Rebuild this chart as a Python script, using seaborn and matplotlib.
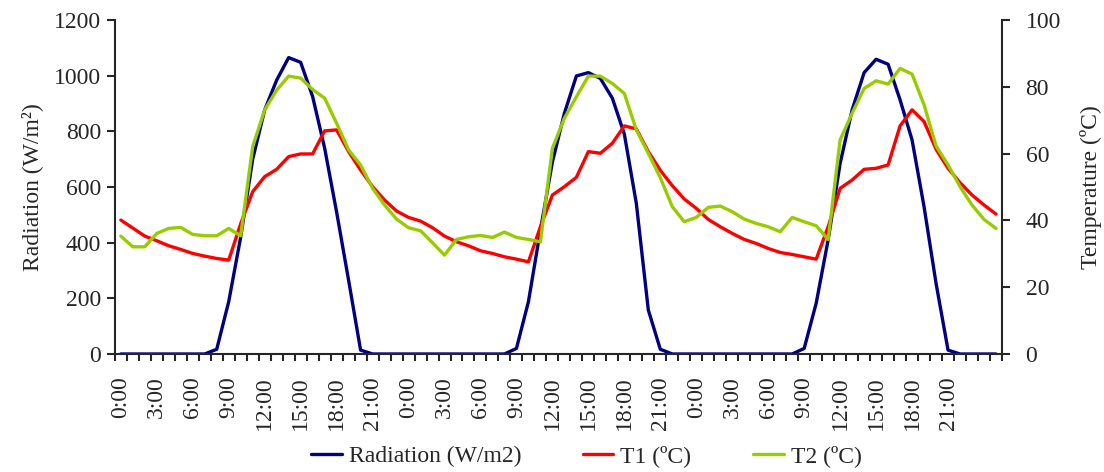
import numpy as np
import pandas as pd
import matplotlib
matplotlib.use('Agg')
import matplotlib.pyplot as plt
import seaborn as sns
from matplotlib.ticker import FixedLocator, MultipleLocator

######################################################### data (hourly, 3 days)
hour_labels = ['0:00', '3:00', '6:00', '9:00', '12:00', '15:00', '18:00', '21:00'] * 3

radiation = [0, 0, 0, 0, 0, 0, 0, 0, 17, 188,
             420, 700, 877, 984, 1065, 1048, 925, 740, 510, 265,
             14, 0, 0, 0, 0, 0, 0, 0, 0, 0,
             0, 0, 0, 20, 188, 445, 690, 865, 999, 1011,
             990, 919, 790, 541, 158, 17, 0, 0, 0, 0,
             0, 0, 0, 0, 0, 0, 0, 20, 182, 410,
             685, 877, 1011, 1059, 1041, 913, 769, 529, 254, 14,
             0, 0, 0, 0]

t1 = [40.1, 37.7, 35.3, 33.9, 32.4, 31.3, 30.1, 29.3, 28.6, 28.1,
      39.0, 48.6, 53.1, 55.3, 59.1, 59.9, 59.9, 66.8, 67.1, 60.6,
      55.1, 50.1, 46.1, 42.8, 40.9, 39.8, 37.8, 35.3, 33.6, 32.4,
      30.9, 30.1, 29.1, 28.4, 27.6, 38.1, 47.6, 50.1, 52.9, 60.6,
      60.1, 63.1, 68.3, 67.4, 60.6, 55.0, 50.4, 46.4, 43.6, 40.3,
      38.1, 36.1, 34.3, 33.1, 31.6, 30.4, 29.8, 29.1, 28.4, 38.1,
      49.6, 52.1, 55.3, 55.6, 56.6, 68.3, 73.1, 69.6, 61.3, 55.6,
      51.3, 47.6, 44.6, 41.9]

t2 = [35.3, 32.1, 32.1, 36.1, 37.6, 37.9, 35.8, 35.4, 35.4, 37.6,
      35.4, 62.1, 73.1, 79.0, 83.2, 82.6, 79.2, 76.6, 69.1, 61.1,
      56.6, 49.6, 44.6, 40.4, 37.8, 36.9, 33.3, 29.6, 34.3, 35.1,
      35.5, 34.9, 36.5, 34.9, 34.3, 33.6, 61.6, 70.6, 77.0, 83.2,
      83.2, 81.0, 78.0, 67.1, 60.1, 52.8, 44.1, 39.6, 40.9, 43.9,
      44.3, 42.6, 40.4, 39.1, 38.1, 36.6, 40.9, 39.6, 38.4, 34.3,
      64.1, 72.1, 79.5, 81.8, 80.8, 85.5, 83.8, 74.6, 62.3, 56.6,
      50.1, 44.6, 40.3, 37.6]

df = pd.DataFrame({'step': range(len(radiation)), 'radiation': radiation, 't1': t1, 't2': t2})

######################################################### plot
sns.set_style('ticks')
plt.rcParams['font.family'] = ['Liberation Serif', 'DejaVu Serif']
plt.rcParams['font.size'] = 17

fig, ax = plt.subplots(figsize=(11.04, 4.72), dpi=100)
fig.subplots_adjust(left=0.104, right=0.9076, top=0.9576, bottom=0.25)
ax2 = ax.twinx()

sns.lineplot(data=df, x='step', y='radiation', ax=ax, color='#000080', lw=2.4,
             label='Radiation (W/m2)', legend=False)
sns.lineplot(data=df, x='step', y='t1', ax=ax2, color='#FF0000', lw=2.4,
             label='T1 (ºC)', legend=False)
sns.lineplot(data=df, x='step', y='t2', ax=ax2, color='#99CC00', lw=2.4,
             label='T2 (ºC)', legend=False)

# x axis: category style, ticks between hours, label every 3 h
ax.set_xlim(-0.5, len(radiation) - 0.5)
ax.set_xticks(np.arange(len(hour_labels)) * 3)
ax.set_xticklabels(hour_labels, rotation=90)
ax.xaxis.set_minor_locator(FixedLocator(np.arange(-0.5, len(radiation), 1)))
ax.tick_params(axis='x', which='major', length=0, pad=16, labelsize=17)
ax.tick_params(axis='x', which='minor', length=5, width=1.5, direction='out')
ax.set_xlabel('')

ax.set_ylim(0, 1200)
ax.yaxis.set_major_locator(MultipleLocator(200))
ax.tick_params(axis='y', length=6, width=1.5, pad=4, labelsize=17)
ax.set_ylabel('Radiation (W/m²)', fontsize=17, labelpad=8)

ax2.set_ylim(0, 100)
ax2.yaxis.set_major_locator(MultipleLocator(20))
ax2.tick_params(axis='y', length=6, width=1.5, pad=11, labelsize=17)
ax2.set_ylabel('Temperature (ºC)', fontsize=17, labelpad=14)

for a in (ax, ax2):
    a.spines['top'].set_visible(False)
    for s in ('left', 'right', 'bottom'):
        a.spines[s].set_linewidth(1.5)
ax.spines['right'].set_visible(False)
ax2.spines['left'].set_visible(False)
ax2.spines['bottom'].set_visible(False)

h1, l1 = ax.get_legend_handles_labels()
h2, l2 = ax2.get_legend_handles_labels()
fig.legend(h1 + h2, l1 + l2, loc='lower center', ncol=3, frameon=False,
           bbox_to_anchor=(0.531, -0.035), fontsize=17, handlelength=1.3,
           handletextpad=0.3, columnspacing=2.6)

plt.savefig('out.png', dpi=100)
